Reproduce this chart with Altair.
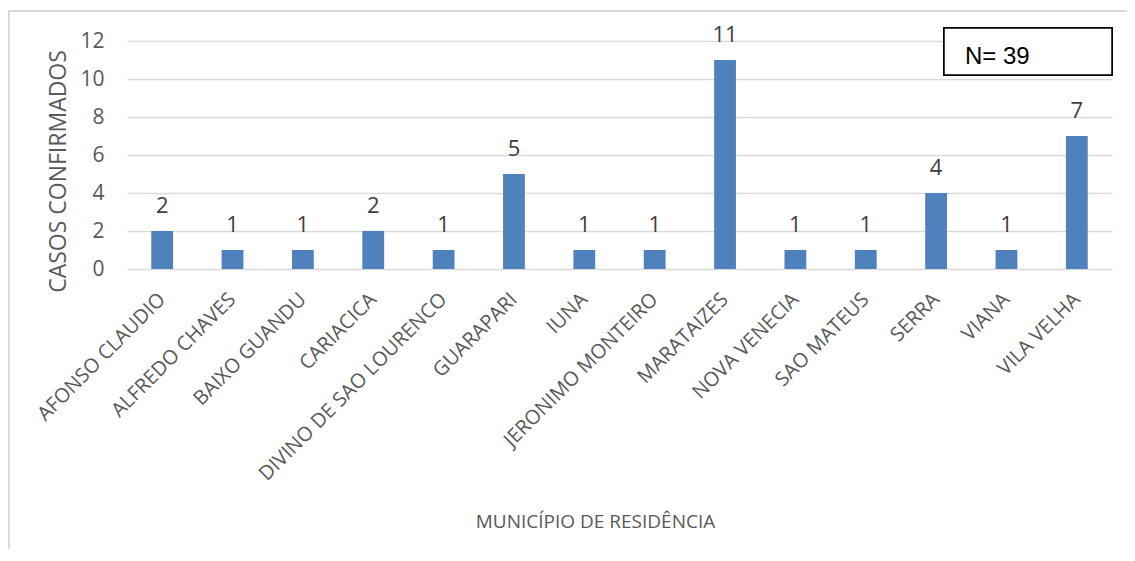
import altair as alt
import pandas as pd

municipios = ["AFONSO CLAUDIO", "ALFREDO CHAVES", "BAIXO GUANDU", "CARIACICA",
              "DIVINO DE SAO LOURENCO", "GUARAPARI", "IUNA", "JERONIMO MONTEIRO",
              "MARATAIZES", "NOVA VENECIA", "SAO MATEUS", "SERRA", "VIANA", "VILA VELHA"]
casos = [2, 1, 1, 2, 1, 5, 1, 1, 11, 1, 1, 4, 1, 7]
y_ticks = [0, 2, 4, 6, 8, 10, 12]
n_label = "N= 39"

df = pd.DataFrame({"municipio": municipios, "casos": casos})

FONT = "Open Sans"
GRAY = "#595959"

x_enc = alt.X("municipio:N", sort=municipios,
              scale=alt.Scale(paddingInner=0.69, paddingOuter=0.345),
              axis=alt.Axis(title="MUNICÍPIO DE RESIDÊNCIA", labelAngle=315,
                            labelAlign="right", labelBaseline="top", labelLimit=0,
                            labelOverlap=False,
                            labelPadding=20, labelOffset=-7, ticks=False, domain=False,
                            labelFont=FONT, labelFontSize=20, labelColor=GRAY,
                            titleFont=FONT, titleFontSize=19, titleColor=GRAY,
                            titleFontWeight="normal", titleX=468, titleY=258,
                            titleBaseline="alphabetic", titleAlign="center"))
y_enc = alt.Y("casos:Q", scale=alt.Scale(domain=[0, 12], nice=False),
              axis=alt.Axis(title="CASOS CONFIRMADOS", values=y_ticks, ticks=False,
                            domain=False, gridColor="#D9D9D9", gridWidth=1.3,
                            labelOverlap=False,
                            labelPadding=23, labelFont=FONT, labelFontSize=21,
                            labelColor=GRAY, titleFont=FONT, titleFontSize=23,
                            titleColor=GRAY, titleFontWeight="normal",
                            titleX=-62, titleY=130, titleBaseline="alphabetic",
                            titleAlign="center", titleAngle=270))

border = alt.Chart(df).mark_rect(fill=None, stroke="#D9D9D9", strokeWidth=1.5).encode(
    x=alt.value(-118.5), x2=alt.value(1030), y=alt.value(-30), y2=alt.value(600))

bars = alt.Chart(df).mark_bar(color="#4F81BD").encode(x=x_enc, y=y_enc)

labels = alt.Chart(df).mark_text(font=FONT, fontSize=22, color="#404040",
                                 baseline="alphabetic", dy=-18).encode(
    x=x_enc, y=y_enc, text="casos:Q")

box = alt.Chart(df).mark_rect(fill="white", stroke="black", strokeWidth=1.5).encode(
    x=alt.value(817), x2=alt.value(985), y=alt.value(-13), y2=alt.value(34))

ntext = alt.Chart(pd.DataFrame({"t": [n_label]})).mark_text(
    font="Liberation Sans", fontSize=24, color="black", align="left",
    baseline="alphabetic").encode(x=alt.value(838), y=alt.value(23), text="t:N")

chart = alt.layer(border, bars, labels, box, ntext).properties(
    width=985, height=228,
    autosize=alt.AutoSizeParams(type="none"),
    padding={"left": 119, "top": 33, "right": 15, "bottom": 280},
).configure_view(stroke=None)

chart.save("out.html", embed_options={"renderer": "svg", "actions": False})
